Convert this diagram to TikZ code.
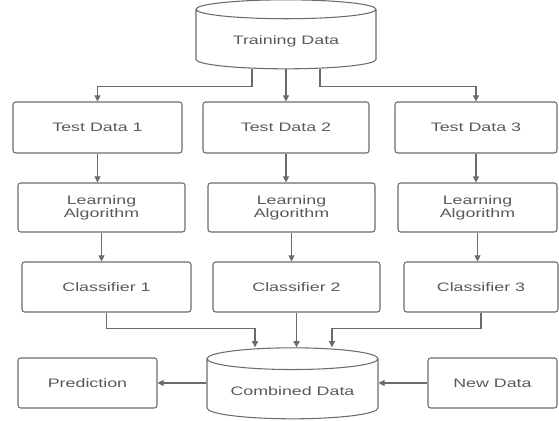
\documentclass[tikz,border=0pt]{standalone}
\usepackage{fontspec}
\setmainfont{Liberation Sans}[FakeStretch=1.45]
\usepackage{xcolor}
\definecolor{linegray}{rgb}{0.42,0.42,0.42}
\definecolor{textgray}{rgb}{0.35,0.35,0.35}
\usepackage{tikz}
\usetikzlibrary{positioning, arrows.meta, shapes.geometric, calc}

\begin{document}
\begin{tikzpicture}[
  x=0.02cm, y=-0.02cm,
  box/.style={draw=linegray, rounded corners=1.5pt, line width=0.6pt,
              minimum width=3.34cm, minimum height=1cm, text=textgray,
              font=\fontsize{7}{7.5}\selectfont, align=center},
  store/.style={draw=linegray, line width=0.6pt, cylinder, shape border rotate=90,
                aspect=0.16, text=textgray, font=\fontsize{7}{7.5}\selectfont},
  arrow/.style={-{Triangle[length=3.5pt, width=3.5pt]}, draw=linegray, line width=0.6pt},
]
\useasboundingbox (0,0) rectangle (559,421);

% --- Source ---
\node[store, minimum width=3.6cm, minimum height=1.38cm] (train) at (286, 41) {Training Data};

% --- Test data ---
\node[box, minimum width=3.38cm, minimum height=1.02cm] (td1) at (97.5, 127.5) {Test Data 1};
\node[box, minimum width=3.32cm, minimum height=1.02cm] (td2) at (286, 127.5) {Test Data 2};
\node[box, minimum width=3.24cm, minimum height=1.02cm] (td3) at (476, 127.5) {Test Data 3};

% --- Learners ---
\node[box, minimum height=0.98cm] (la1) at (101.5, 207.5) {Learning\\Algorithm};
\node[box, minimum height=0.98cm] (la2) at (291.5, 207.5) {Learning\\Algorithm};
\node[box, minimum width=3.18cm, minimum height=0.98cm] (la3) at (477.5, 207.5) {Learning\\Algorithm};

% --- Classifiers ---
\node[box, minimum width=3.38cm] (c1) at (106.5, 287) {Classifier 1};
\node[box] (c2) at (296.5, 287) {Classifier 2};
\node[box, minimum width=3.08cm] (c3) at (481, 287) {Classifier 3};

% --- Bottom row ---
\node[store, minimum width=3.42cm, minimum height=1.42cm] (comb) at (292.5, 391) {Combined Data};
\node[box, minimum width=2.78cm] (pred) at (87.5, 383) {Prediction};
\node[box, minimum width=2.58cm] (newd) at (492.5, 383) {New Data};

% Arrows
\draw[arrow] ([xshift=-0.68cm]train.south) -- ++(0,-0.34cm) -| (td1);
\draw[arrow] (train) -- (td2);
\draw[arrow] ([xshift=0.68cm]train.south) -- ++(0,-0.34cm) -| (td3);

\draw[arrow] (td1) -- (td1 |- la1.north);
\draw[arrow] (td2) -- (td2 |- la2.north);
\draw[arrow] (td3) -- (td3 |- la3.north);

\draw[arrow] (la1) -- (la1 |- c1.north);
\draw[arrow] (la2) -- (la2 |- c2.north);
\draw[arrow] (la3) -- (la3 |- c3.north);

\draw[arrow] (c1.south) -- ++(0,-0.32cm) -| ([xshift=-0.75cm]comb.north);
\draw[arrow] (c2) -- (c2 |- comb.north);
\draw[arrow] (c3.south) -- ++(0,-0.32cm) -| ([xshift=0.79cm]comb.north);

\draw[arrow] (comb.west |- pred) -- (pred);
\draw[arrow] (newd) -- (comb.east |- newd);
\end{tikzpicture}
\end{document}
